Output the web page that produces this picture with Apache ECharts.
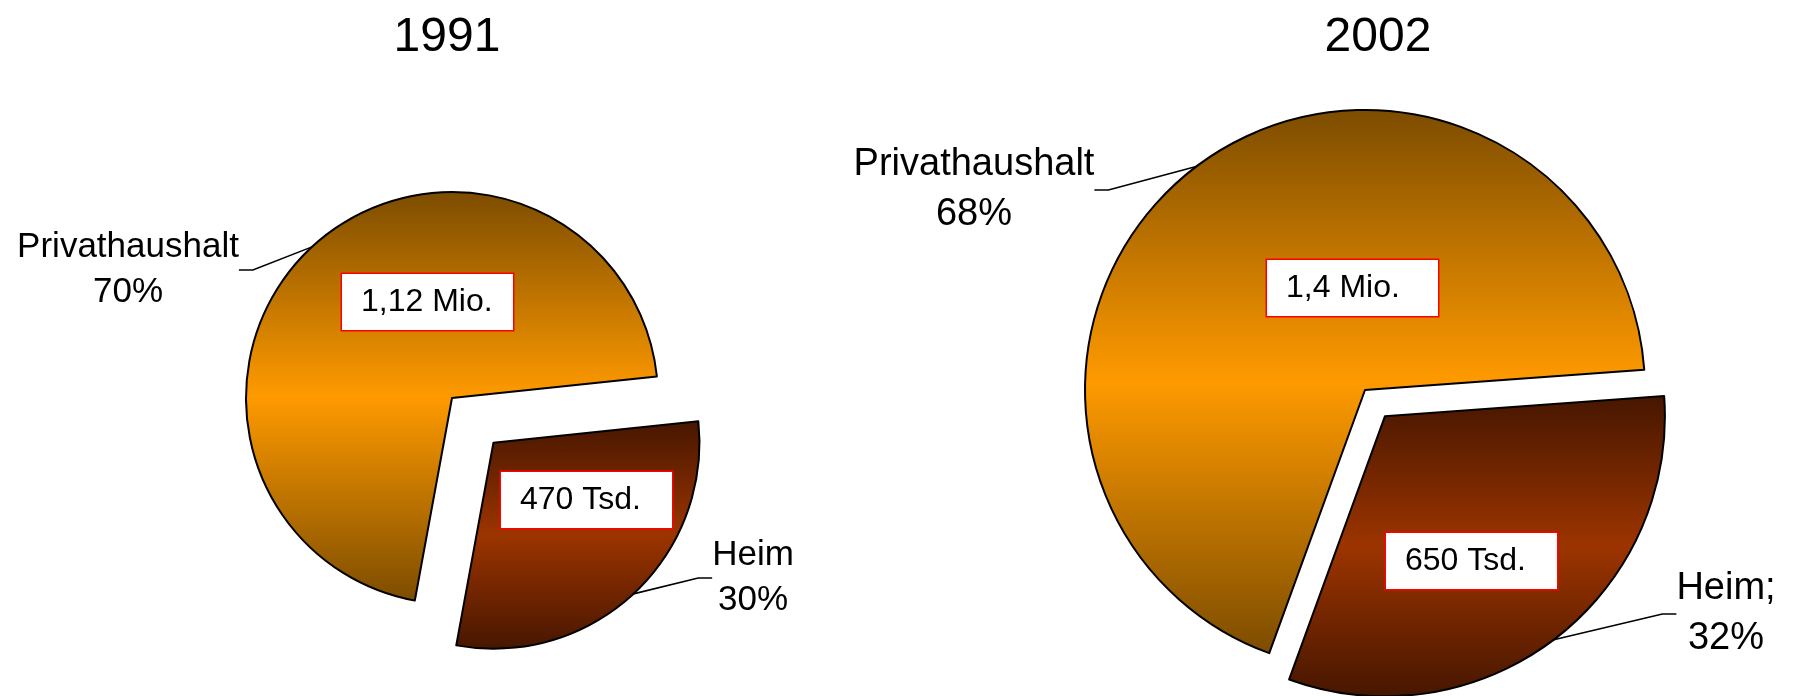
<!DOCTYPE html>
<html>
<head>
<meta charset="utf-8">
<title>Pflegebedürftige 1991 / 2002</title>
<script src="https://cdn.jsdelivr.net/npm/echarts@6/dist/echarts.min.js"></script>
<style>
  html, body { margin: 0; padding: 0; background: #fff; }
  #chart { width: 1794px; height: 696px; }
</style>
</head>
<body>
<div id="chart"></div>
<script>
// Daten (Tsd.)
const categories = ['Privathaushalt', 'Heim'];
const years = ['1991', '2002'];
const values1991 = [1120, 470];
const values2002 = [1400, 650];
const nameSuffix2002 = ['', ';']; // "Heim;" im rechten Diagramm

// Layout je Diagramm (nur Positionen / Größen)
const layouts = [
  {
    title: [447, 14], center: [452, 398], radius: 206, startAngle: 259.6, offset: 61,
    fontSize: 35, lineHeight: 45,
    outside: [[128, 270], [753, 578]],
    boxes: [[342, 302], [501, 500]]
  },
  {
    title: [1378, 14], center: [1365, 390], radius: 280, startAngle: 250, offset: 33,
    fontSize: 38, lineHeight: 50,
    outside: [[974, 190], [1726, 614]],
    boxes: [[1267, 288], [1386, 561]]
  }
];

const FONT = "'Liberation Sans', Arial, sans-serif";
const NONE = 'rgba(0,0,0,0)';

function grad(edge, mid) {
  return new echarts.graphic.LinearGradient(0, 0, 0, 1, [
    { offset: 0, color: edge },
    { offset: 0.5, color: mid },
    { offset: 1, color: edge }
  ]);
}
const sliceColors = [grad('#7c4c00', '#ff9a00'), grad('#461600', '#9c3400')];

function boxText(v) {
  return v >= 1000 ? String(v / 1000).replace('.', ',') + ' Mio.' : v + ' Tsd.';
}

const chart = echarts.init(document.getElementById('chart'));
const series = [];
const titles = [];

[values1991, values2002].forEach(function (vals, k) {
  const L = layouts[k];
  const total = vals[0] + vals[1];
  // Heim-Scheibe entlang ihrer Winkelhalbierenden herausgerückt
  const mid = (L.startAngle - 360 * (vals[0] + vals[1] / 2) / total) * Math.PI / 180;
  const centers = [L.center, [L.center[0] + L.offset * Math.cos(mid), L.center[1] - L.offset * Math.sin(mid)]];

  titles.push({
    text: years[k], left: L.title[0], top: L.title[1], textAlign: 'center', padding: 0,
    textStyle: { fontFamily: FONT, fontSize: 48, fontWeight: 'normal', color: '#000', lineHeight: 48 }
  });

  // je Scheibe eine Serie (die andere Scheibe unsichtbar)
  [0, 1].forEach(function (s) {
    series.push({
      type: 'pie', center: centers[s], radius: L.radius, startAngle: L.startAngle,
      silent: true, avoidLabelOverlap: false, percentPrecision: 0,
      emphasis: { disabled: true, scale: false },
      data: vals.map(function (v, i) {
        const on = i === s;
        const item = {
          name: categories[i], value: v,
          itemStyle: on ? { color: sliceColors[i], borderColor: '#000', borderWidth: 2 }
                        : { color: NONE, borderWidth: 0 },
          label: { show: on },
          labelLine: { show: on }
        };
        if (k === 1 && nameSuffix2002[i]) item.label.formatter = '{b}' + nameSuffix2002[i] + '\n{d}%';
        return item;
      }),
      label: {
        position: 'outside', formatter: '{b}\n{d}%',
        fontFamily: FONT, fontSize: L.fontSize, lineHeight: L.lineHeight, color: '#000', align: 'center'
      },
      labelLine: { length: 10, length2: 14, lineStyle: { color: '#000', width: 1.6 } },
      labelLayout: function (p) {
        const pos = L.outside[p.dataIndex];
        return { x: pos[0], y: pos[1], align: 'center', verticalAlign: 'middle' };
      }
    });
  });

  // Wertkästen
  series.push({
    type: 'pie', center: L.center, radius: L.radius, startAngle: L.startAngle,
    silent: true, avoidLabelOverlap: false, z: 3,
    emphasis: { disabled: true, scale: false },
    data: vals.map(function (v, i) { return { name: categories[i], value: v }; }),
    itemStyle: { color: NONE, borderWidth: 0 },
    label: {
      show: true, position: 'inside',
      formatter: function (p) { return boxText(p.value); },
      fontFamily: FONT, fontSize: 32, color: '#000', overflow: 'none',
      backgroundColor: '#fff', borderColor: '#ff0000', borderWidth: 1.5,
      width: 133, height: 56, lineHeight: 56, padding: [0, 19], align: 'left'
    },
    labelLine: { show: false },
    labelLayout: function (p) {
      const pos = L.boxes[p.dataIndex];
      return { x: pos[0], y: pos[1], align: 'left', verticalAlign: 'middle' };
    }
  });
});

chart.setOption({
  animation: false,
  backgroundColor: '#fff',
  title: titles,
  series: series
});
</script>
</body>
</html>
